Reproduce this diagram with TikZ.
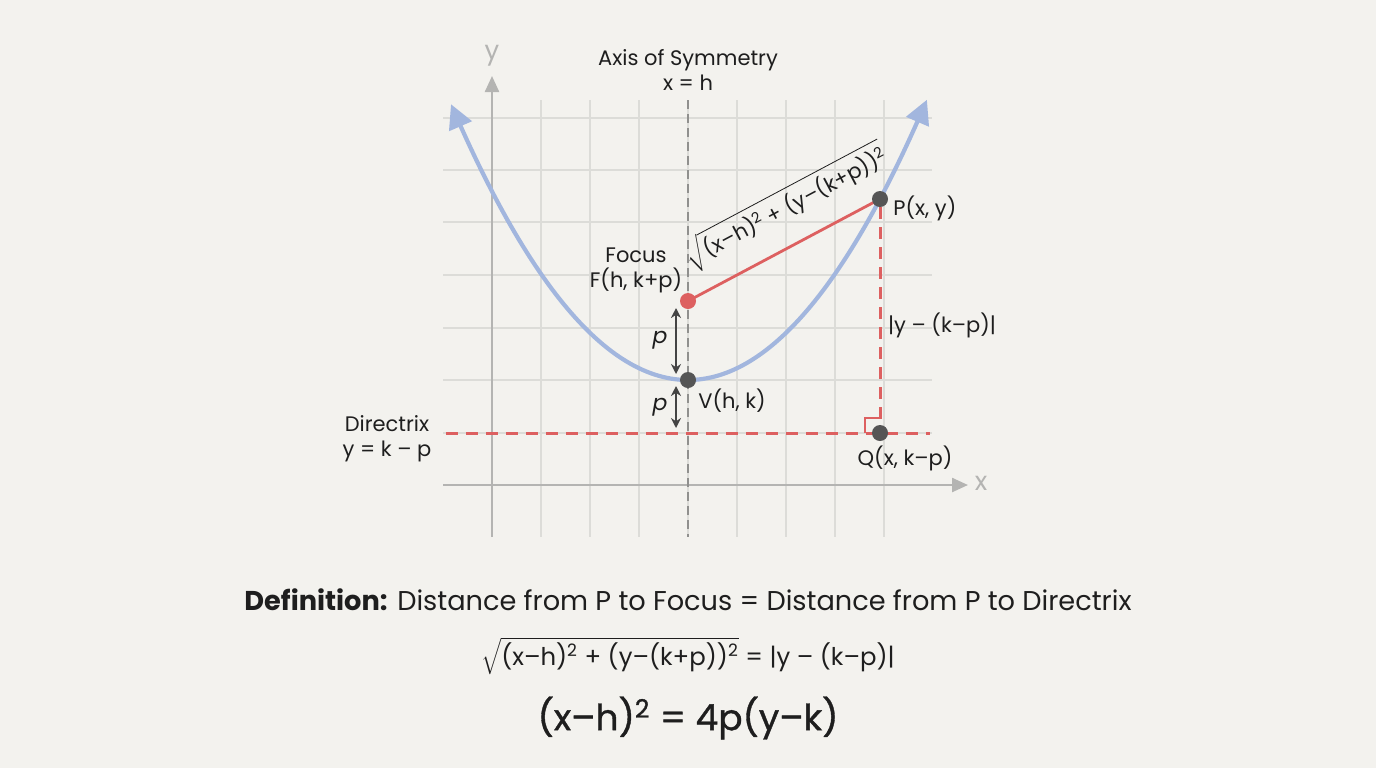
\documentclass[tikz,border=0pt]{standalone}
\usepackage{fontspec}
\setmainfont{Poppins}
\newfontfamily\medfont{Poppins}[FakeBold=1.0]
\usetikzlibrary{arrows.meta,calc}
\definecolor{bg}{HTML}{F3F2EE}
\definecolor{gridc}{HTML}{DCDCD8}
\definecolor{axisc}{HTML}{B4B4B2}
\definecolor{curvec}{HTML}{A2B6DE}
\definecolor{redc}{HTML}{DD6060}
\definecolor{dotc}{HTML}{555555}
\definecolor{txt}{HTML}{1E1E1E}
\newcommand{\sq}{\textsuperscript{2}}
\begin{document}
\begin{tikzpicture}[x=0.5pt,y=-0.5pt,
  gridline/.style={draw=gridc,line width=0.7pt},
  axisline/.style={draw=axisc,line width=1.2pt,-{Triangle[length=8pt,width=7pt]}},
  lbl/.style={text=txt,font=\fontsize{10.5}{12.5}\selectfont,inner sep=1pt,align=center},
  dot/.style={circle,fill=dotc,minimum size=8pt,inner sep=0pt},
  reddot/.style={circle,fill=redc,minimum size=8pt,inner sep=0pt},
  reddash/.style={draw=redc,line width=1.5pt,dash pattern=on 6pt off 4pt},
  parr/.style={draw=dotc!80!black,line width=1pt,{Stealth[length=5pt,width=5pt]}-{Stealth[length=5pt,width=5pt]}}
]
\fill[bg] (0,0) rectangle (1376,768);
\useasboundingbox (0,0) rectangle (1376,768);
% grid
\foreach \x in {541,590,...,884} \draw[gridline] (\x,100) -- (\x,537);
\foreach \y in {118,170,222,275,328,380,433} \draw[gridline] (443,\y) -- (932,\y);
% axes
\coordinate (yb) at (492,537); \coordinate (yt) at (492,76);
\coordinate (xl) at (443,485); \coordinate (xr) at (968,485);
\draw[axisline] (yb) -- (yt);
\draw[axisline] (xl) -- (xr);
\node[text=axisc,font=\fontsize{13}{15}\selectfont] (ylab) at (492,56) {y};
\node[text=axisc,font=\fontsize{13}{15}\selectfont] (xlab) at (981,483) {x};
% axis of symmetry
\coordinate (at) at (688,100); \coordinate (ab) at (688,537);
\draw[draw=axisc!80!black,line width=1.2pt,dash pattern=on 4.5pt off 2.5pt] (at) -- (ab);
\node[lbl] (axlab) at (688,70) {Axis of Symmetry\\x = h};
% directrix
\coordinate (dl) at (446,433); \coordinate (dr) at (930,433);
\draw[reddash] (dl) -- (dr);
\node[lbl] (dirlab) at (387,439) {Directrix\\y = k – p};
% parabola
\draw[draw=curvec,line width=2.1pt,{Triangle[length=12pt,width=12pt]}-{Triangle[length=12pt,width=12pt]},domain=-2.37:2.39,samples=120]
  plot ({688+100*\x},{380-49.1*\x*\x});
% points
\coordinate (Fc) at (688,301); \coordinate (Pc) at (880,199);
\draw[draw=redc,line width=1.4pt] (Fc) -- (Pc);
\node[reddot] (F) at (Fc) {};
\node[dot] (P) at (Pc) {};
\node[dot] (Q) at (880,433) {};
\node[dot] (V) at (688,380) {};
\draw[reddash] (P) -- (Q);
% right angle mark
\draw[draw=redc,line width=0.9pt] ($(Q)+(-15,0)$) -- ($(Q)+(-15,-15)$) -- ($(Q)+(0,-15)$);
% p arrows
\draw[parr] ($(F)+(-12,7)$) -- ($(V)+(-12,-6)$);
\draw[parr] ($(V)+(-12,6)$) -- ($(V)+(-12,48)$);
\node[lbl,font=\fontsize{11}{13}\selectfont\itshape] (p1) at (660,340) {p};
\node[lbl,font=\fontsize{11}{13}\selectfont\itshape] (p2) at (660,407) {p};
% labels
\node[lbl] (Flab) at (636,270) {Focus\\F(h, k+p)};
\node[lbl,anchor=west] (Plab) at (891,208) {P(x, y)};
\node[lbl] (Qlab) at (905,458) {Q(x, k–p)};
\node[lbl,anchor=west] (Vlab) at (696,401) {V(h, k)};
\node[lbl] (dlab) at (942,325) {|y – (k–p)|};
\node[lbl,rotate=28] (sqlab) at (786,207) {$\sqrt{\mbox{(x–h)\sq{} + (y–(k+p))\sq}}$};
% bottom text
\node[text=txt,font=\fontsize{13.6}{16}\selectfont] (def) at (688,600) {\textbf{Definition:} Distance from P to Focus = Distance from P to Directrix};
\node[text=txt,font=\fontsize{12.2}{14}\selectfont] (eq1) at (688,656) {$\sqrt{\mbox{(x–h)\sq{} + (y–(k+p))\sq}}$ = |y – (k–p)|};
\node[text=txt,font=\fontsize{18}{21}\selectfont\medfont] (eq2) at (688,718) {(x–h)\sq{} = 4p(y–k)};
\end{tikzpicture}
\end{document}
